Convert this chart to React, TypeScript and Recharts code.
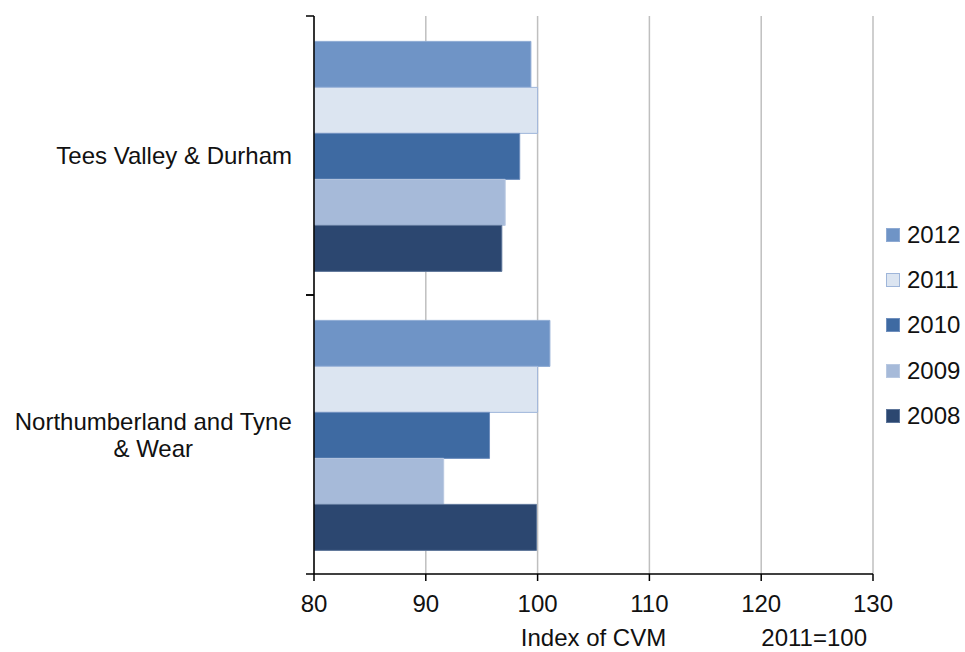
import React from 'react';
import { BarChart, Bar, XAxis, YAxis, CartesianGrid, Legend, Label } from 'recharts';

// Output index by region, 2011 = 100
const regions = ['Tees Valley & Durham', 'Northumberland and Tyne & Wear'];
const years = ['2012', '2011', '2010', '2009', '2008'];
const values2012 = [99.4, 101.1];
const values2011 = [100, 100];
const values2010 = [98.4, 95.7];
const values2009 = [97.1, 91.6];
const values2008 = [96.8, 99.9];
const xTicks = [80, 90, 100, 110, 120, 130];

const seriesValues: Record<string, number[]> = {
  '2012': values2012,
  '2011': values2011,
  '2010': values2010,
  '2009': values2009,
  '2008': values2008,
};

const FILLS: Record<string, string> = {
  '2012': '#6f94c6',
  '2011': '#dce5f1',
  '2010': '#3e6aa2',
  '2009': '#a6bad9',
  '2008': '#2c4770',
};

const STROKES: Record<string, string> = {
  '2012': '#8eaad3',
  '2011': '#9fb6da',
  '2010': '#6f8fbd',
  '2009': '#b8c8e1',
  '2008': '#5d7599',
};

const data = regions.map((region, i) => {
  const row: Record<string, string | number> = { region };
  years.forEach((y) => {
    row[`y${y}`] = seriesValues[y][i];
  });
  return row;
});

const FONT = '"Liberation Sans", Arial, sans-serif';
const TEXT = '#111';
const LABEL_SIZE = 24;
const Y_TICK_SIZE = 8;
const Y_TICK_MARGIN = 14;

let measureCtx: CanvasRenderingContext2D | null = null;
const textWidth = (s: string, size: number) => {
  if (!measureCtx) measureCtx = document.createElement('canvas').getContext('2d');
  if (!measureCtx) return s.length * size * 0.5;
  measureCtx.font = `${size}px ${FONT}`;
  return measureCtx.measureText(s).width;
};

// greedy word wrap, lines centred under the widest one
const wrapWords = (label: string, maxWidth: number, size: number) => {
  const lines: string[] = [];
  let current = '';
  label.split(' ').forEach((word) => {
    const next = current ? `${current} ${word}` : word;
    if (current && textWidth(next, size) > maxWidth) {
      lines.push(current);
      current = word;
    } else {
      current = next;
    }
  });
  if (current) lines.push(current);
  return lines;
};

const RegionTick = (props: any) => {
  const { x, y, payload } = props;
  const lines = wrapWords(String(payload.value), 285, LABEL_SIZE);
  const widest = Math.max(...lines.map((l) => textWidth(l, LABEL_SIZE)));
  const cx = x - widest / 2;
  const lh = 27;
  const firstY = y - ((lines.length - 1) * lh) / 2;
  const half = payload.offset ?? 0;
  const axisX = x + Y_TICK_MARGIN + Y_TICK_SIZE;
  return (
    <g>
      {half > 0 && (
        <>
          <line x1={axisX - Y_TICK_SIZE} x2={axisX} y1={y - half} y2={y - half} stroke="#000" strokeWidth={1.5} />
          <line x1={axisX - Y_TICK_SIZE} x2={axisX} y1={y + half} y2={y + half} stroke="#000" strokeWidth={1.5} />
        </>
      )}
      <text x={cx} y={firstY} textAnchor="middle" fontFamily={FONT} fontSize={LABEL_SIZE} fill={TEXT}>
        {lines.map((line, i) => (
          <tspan key={line} x={cx} dy={i === 0 ? '0.36em' : lh}>
            {line}
          </tspan>
        ))}
      </text>
    </g>
  );
};

// legend rows follow the bar order, newest year first
const YearLegend = () => (
  <div style={{ fontFamily: FONT, fontSize: LABEL_SIZE, color: TEXT }}>
    {years.map((year) => (
      <div key={year} style={{ display: 'flex', alignItems: 'center', height: 45.3 }}>
        <span
          style={{
            display: 'inline-block',
            width: 14,
            height: 14,
            boxSizing: 'border-box',
            background: FILLS[year],
            border: `1px solid ${STROKES[year]}`,
            marginRight: 7,
          }}
        />
        {year}
      </div>
    ))}
  </div>
);

export default function App() {
  return (
    <div style={{ position: 'absolute', left: 0, top: 0, width: 965, height: 652, background: '#fff' }}>
      <BarChart
        width={965}
        height={652}
        data={data}
        layout="vertical"
        margin={{ top: 16, right: 92, bottom: 0, left: 0 }}
        barCategoryGap="9.1%"
        barGap={0}
      >
        <CartesianGrid horizontal={false} stroke="#bfbfbf" strokeWidth={1.5} />
        <XAxis
          type="number"
          domain={[80, 130]}
          ticks={xTicks}
          allowDataOverflow
          height={78}
          tickSize={7}
          tickMargin={14}
          axisLine={{ stroke: '#000', strokeWidth: 1.5 }}
          tickLine={{ stroke: '#000', strokeWidth: 1.5 }}
          tick={{ fontFamily: FONT, fontSize: 24, fill: TEXT }}
        >
          <Label value="Index of CVM" position="insideBottom" offset={6} fontFamily={FONT} fontSize={LABEL_SIZE} fill={TEXT} />
          <Label value="2011=100" position="insideBottomRight" offset={6} fontFamily={FONT} fontSize={LABEL_SIZE} fill={TEXT} />
        </XAxis>
        <YAxis
          type="category"
          dataKey="region"
          width={314}
          tickSize={Y_TICK_SIZE}
          tickMargin={Y_TICK_MARGIN}
          tickLine={false}
          axisLine={{ stroke: '#000', strokeWidth: 1.5 }}
          tick={<RegionTick />}
          interval={0}
        />
        <Legend
          layout="vertical"
          align="center"
          verticalAlign="middle"
          content={<YearLegend />}
          wrapperStyle={{ left: 886, top: 212, width: 79 }}
        />
        {years.map((y) => (
          <Bar
            key={y}
            dataKey={`y${y}`}
            name={y}
            fill={FILLS[y]}
            stroke={STROKES[y]}
            strokeWidth={1}
            isAnimationActive={false}
          />
        ))}
      </BarChart>
    </div>
  );
}
